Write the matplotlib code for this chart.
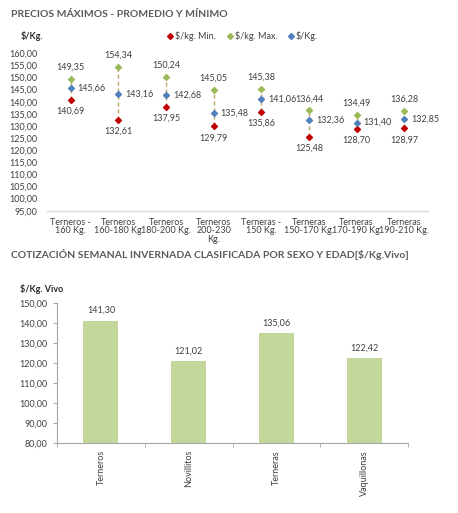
import matplotlib
matplotlib.use("Agg")
import matplotlib.pyplot as plt
from matplotlib.lines import Line2D

plt.rcParams['font.family'] = ['Lato', 'DejaVu Sans']

# top chart data
categorias = ["Terneros -\n160 Kg.", "Terneros\n160-180 Kg.", "Terneros\n180-200 Kg.",
              "Terneros\n200-230\nKg.", "Terneras -\n150 Kg.", "Terneras\n150-170 Kg.",
              "Terneras\n170-190 Kg.", "Terneras\n190-210 Kg."]
precio_min = [140.69, 132.61, 137.95, 129.79, 135.86, 125.48, 128.70, 128.97]
precio_max = [149.35, 154.34, 150.24, 145.05, 145.38, 136.44, 134.49, 136.28]
precio_prom = [145.66, 143.16, 142.68, 135.48, 141.06, 132.36, 131.40, 132.85]
yticks_top = [95, 100, 105, 110, 115, 120, 125, 130, 135, 140, 145, 150, 155, 160]

# bottom chart data
grupos = ["Terneros", "Novillitos", "Terneras", "Vaquillonas"]
cotizacion = [141.30, 121.02, 135.06, 122.42]
yticks_bot = [80, 90, 100, 110, 120, 130, 140, 150]

RED = "#c00000"
GREEN = "#9bbb59"
BLUE = "#4f81bd"
DASH = "#bfa467"
BAR = "#c4d79b"
TXT = "#404040"
GRAY = "#595959"
FS = 6.5


def fmt(v):
    return f"{v:.2f}".replace(".", ",")


fig = plt.figure(figsize=(4.58, 5.13), dpi=100)

# ---------- top chart ----------
ax = fig.add_axes([0.1026, 0.5893, 0.832, 0.3067])
xs = list(range(len(categorias)))
for i in xs:
    ax.plot([i, i], [precio_min[i], precio_max[i]], color=DASH, lw=1.0,
            ls=(0, (3, 2)), zorder=1)
ax.scatter(xs, precio_min, marker="D", s=9, color=RED, zorder=3)
ax.scatter(xs, precio_max, marker="D", s=9, color=GREEN, zorder=3)
ax.scatter(xs, precio_prom, marker="D", s=9, color=BLUE, zorder=3)
for i in xs:
    ax.annotate(fmt(precio_max[i]), (i, precio_max[i]), xytext=(0, 5),
                textcoords="offset points", ha="center", va="bottom",
                fontsize=FS, color=TXT)
    ax.annotate(fmt(precio_prom[i]), (i, precio_prom[i]), xytext=(5, 0),
                textcoords="offset points", ha="left", va="center",
                fontsize=FS, color=TXT)
    ax.annotate(fmt(precio_min[i]), (i, precio_min[i]), xytext=(0, -5),
                textcoords="offset points", ha="center", va="top",
                fontsize=FS, color=TXT)

ax.set_xlim(-0.5, len(categorias) - 0.5)
ax.set_ylim(95, 160)
ax.set_yticks(yticks_top)
ax.set_yticklabels([fmt(v) for v in yticks_top])
ax.set_xticks(xs)
ax.set_xticklabels(categorias, linespacing=0.95)
ax.tick_params(axis="both", length=0, labelsize=FS, colors=TXT)
ax.tick_params(axis="y", pad=7)
ax.tick_params(axis="x", pad=5)
for s in ["top", "right", "left"]:
    ax.spines[s].set_visible(False)
ax.spines["bottom"].set_color("#d9d9d9")
ax.spines["bottom"].set_linewidth(1.0)

fig.text(0.024, 0.972, "PRECIOS MÁXIMOS - PROMEDIO Y MÍNIMO", fontsize=7.5,
         fontweight="bold", color=GRAY, va="center")
fig.text(0.044, 0.930, "$/Kg.", fontsize=FS, fontweight="bold", color="#262626",
         va="center")

handles = [Line2D([], [], marker="D", ls="none", color=c, markersize=3)
           for c in (RED, GREEN, BLUE)]
fig.legend(handles, ["$/kg. Min.", "$/kg. Max.", "$/Kg."], loc="center",
           bbox_to_anchor=(0.528, 0.930), ncol=3, frameon=False, fontsize=FS,
           handletextpad=0.05, columnspacing=1.0, handlelength=1.0,
           labelcolor=TXT)

# ---------- bottom chart ----------
bx = fig.add_axes([0.1245, 0.1365, 0.7665, 0.2723])
bpos = list(range(len(grupos)))
bars = bx.bar(bpos, cotizacion, width=0.4, color=BAR, zorder=2)
for p, v in zip(bpos, cotizacion):
    bx.annotate(fmt(v), (p, v), xytext=(0, 4), textcoords="offset points",
                ha="center", va="bottom", fontsize=FS, color=TXT)
bx.set_xlim(-0.5, len(grupos) - 0.5)
bx.set_ylim(80, 150)
bx.set_yticks(yticks_bot)
bx.set_yticklabels([fmt(v) for v in yticks_bot])
bx.set_xticks(bpos)
bx.set_xticklabels(grupos, rotation=90)
bx.set_xticks([p - 0.5 for p in bpos] + [len(grupos) - 0.5], minor=True)
bx.tick_params(axis="x", which="major", length=0, labelsize=FS, colors=TXT, pad=5)
bx.tick_params(axis="x", which="minor", length=3, color="#a6a6a6")
bx.tick_params(axis="y", length=3, labelsize=FS, colors=TXT, pad=4)
bx.tick_params(axis="y", color="#a6a6a6")
for s in ["top", "right"]:
    bx.spines[s].set_visible(False)
for s in ["left", "bottom"]:
    bx.spines[s].set_color("#a6a6a6")
    bx.spines[s].set_linewidth(0.8)

fig.text(0.024, 0.503, "COTIZACIÓN SEMANAL INVERNADA CLASIFICADA POR SEXO Y EDAD[$/Kg.Vivo]",
         fontsize=7.5, fontweight="bold", color=GRAY, va="center")
fig.text(0.044, 0.437, "$/Kg. Vivo", fontsize=FS, fontweight="bold", color="#262626",
         va="center")

fig.savefig("out.png", dpi=100)
